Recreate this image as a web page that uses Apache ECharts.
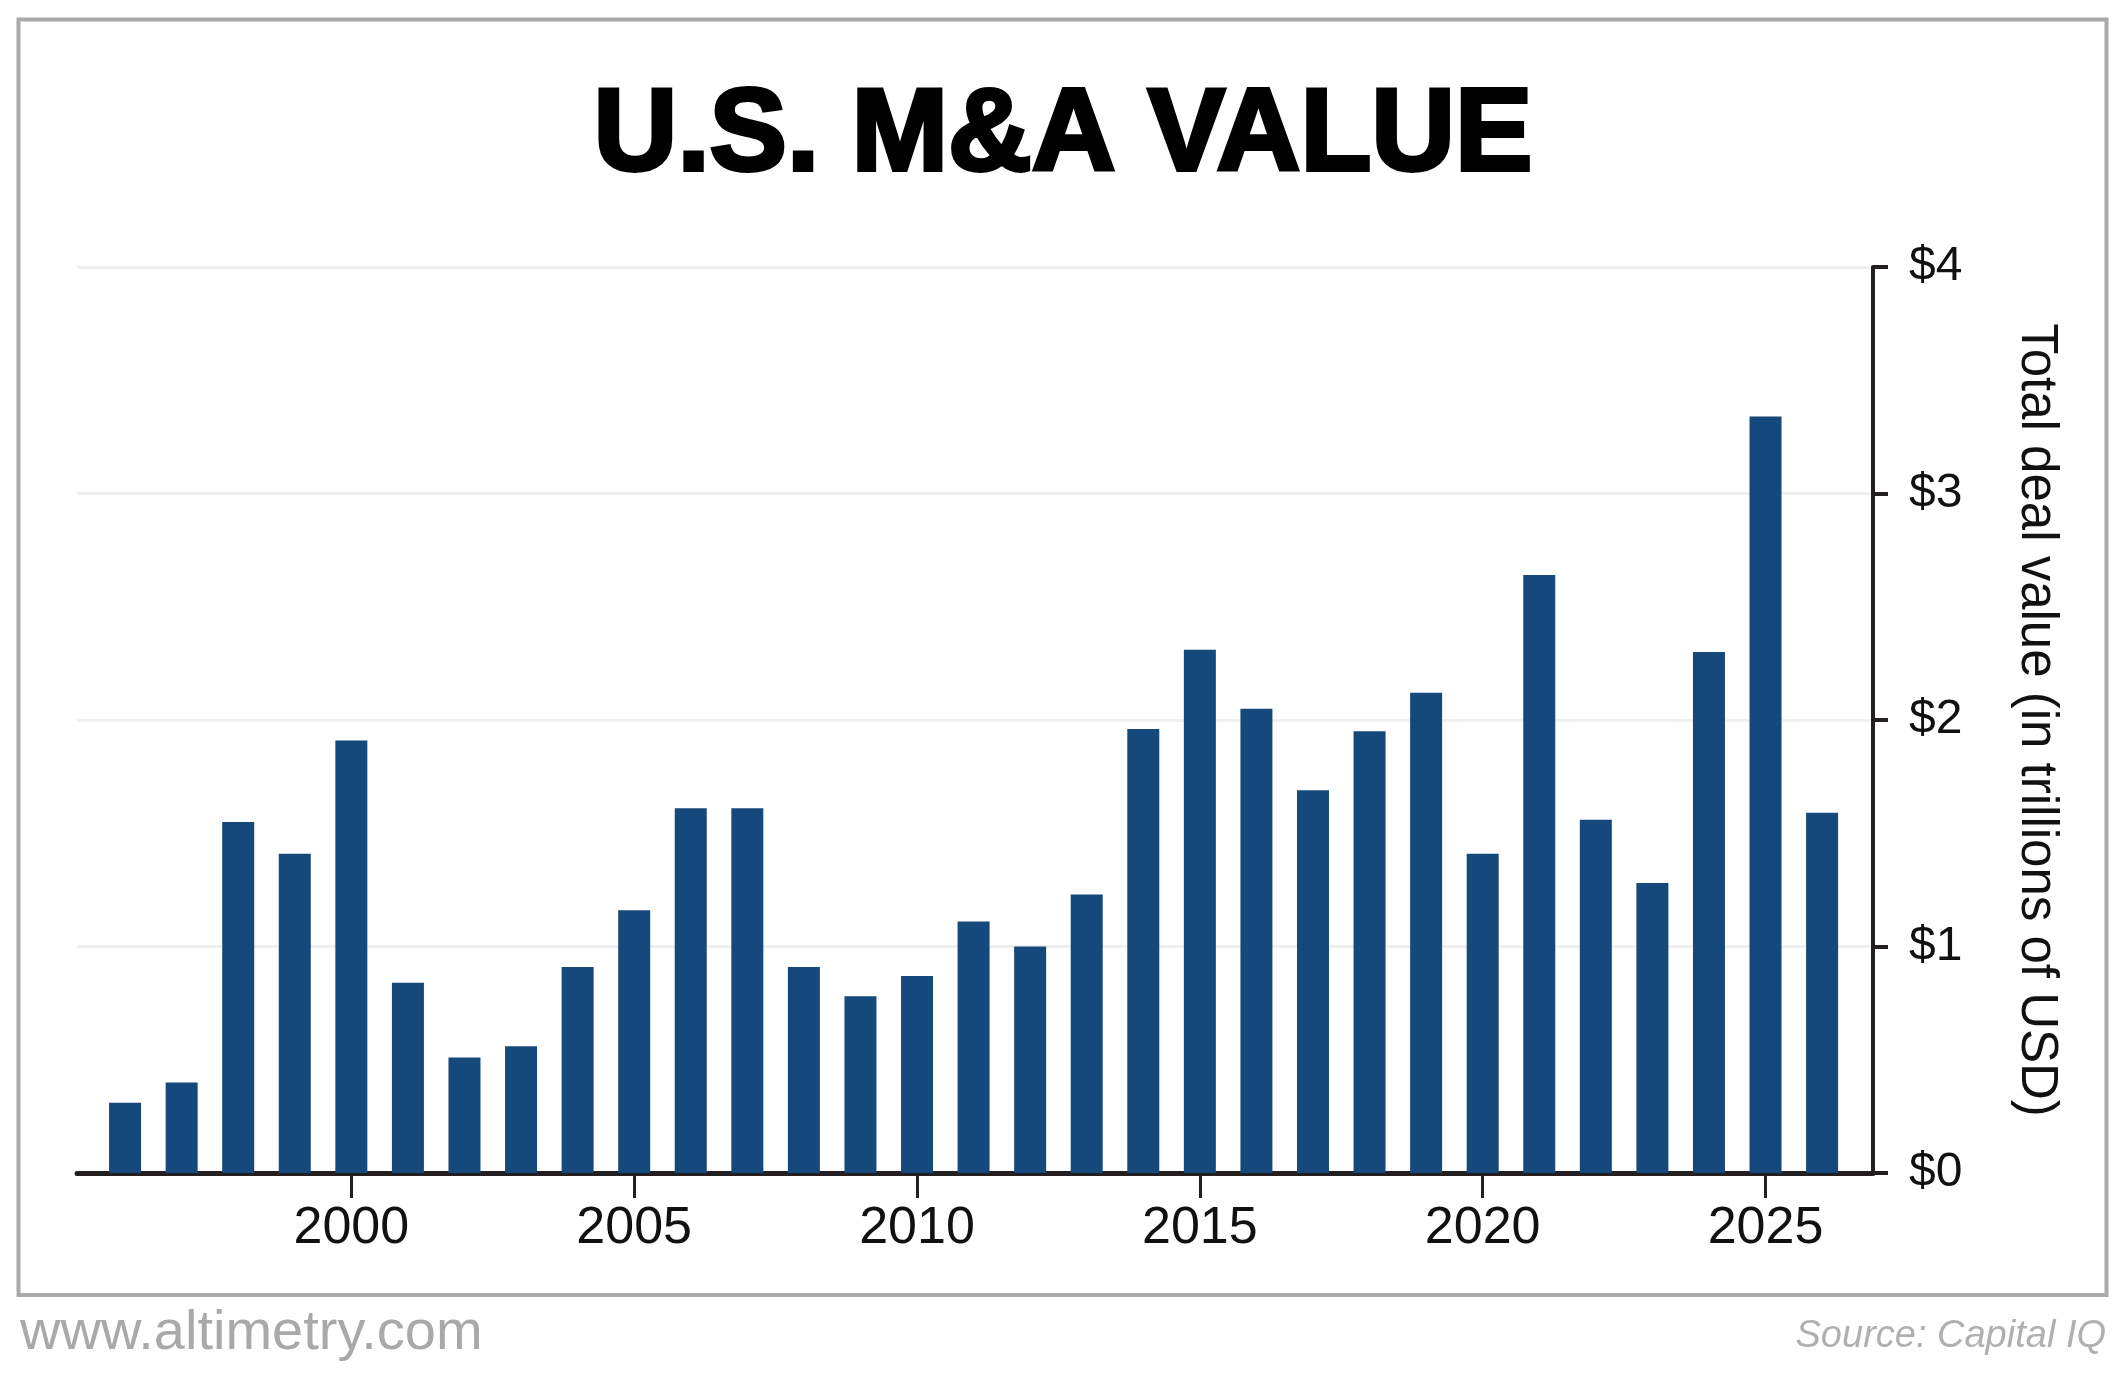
<!DOCTYPE html>
<html>
<head>
<meta charset="utf-8">
<title>U.S. M&amp;A Value</title>
<script src="https://cdn.jsdelivr.net/npm/echarts@6/dist/echarts.min.js"></script>
<style>
  html, body { margin: 0; padding: 0; background: #fff; }
  #chart { width: 2126px; height: 1394px; }
</style>
</head>
<body>
<div id="chart"></div>
<script>
// yearly totals, trillions of USD
const years = [1996, 1997, 1998, 1999, 2000, 2001, 2002, 2003, 2004, 2005,
  2006, 2007, 2008, 2009, 2010, 2011, 2012, 2013, 2014, 2015,
  2016, 2017, 2018, 2019, 2020, 2021, 2022, 2023, 2024, 2025, 2026]
const dealValue = [0.31, 0.40, 1.55, 1.41, 1.91, 0.84, 0.51, 0.56, 0.91, 1.16,
  1.61, 1.61, 0.91, 0.78, 0.87, 1.11, 1.00, 1.23, 1.96, 2.31,
  2.05, 1.69, 1.95, 2.12, 1.41, 2.64, 1.56, 1.28, 2.30, 3.34, 1.59]
const yearTicks = [2000, 2005, 2010, 2015, 2020, 2025]

const ink = '#231f20'
const font = 'Liberation Sans, Arial, sans-serif'

const chart = echarts.init(document.getElementById('chart'))

chart.setOption({
  backgroundColor: '#fff',
  animation: false,
  grid: { left: 77, right: 253, top: 267, bottom: 221, containLabel: false },
  xAxis: {
    type: 'value',
    min: 1995.15,
    max: 2026.9,
    axisLine: { show: true, onZero: false, lineStyle: { color: ink, width: 5 } },
    axisTick: { show: true, customValues: yearTicks, length: 25, lineStyle: { color: ink, width: 3 } },
    axisLabel: {
      customValues: yearTicks,
      formatter: v => String(v),
      margin: 30,
      fontSize: 52,
      fontFamily: font,
      color: '#111'
    },
    splitLine: { show: false }
  },
  yAxis: {
    type: 'value',
    position: 'right',
    min: 0,
    max: 4,
    interval: 1,
    axisLine: { show: true, onZero: false, lineStyle: { color: ink, width: 4 } },
    axisTick: { show: true, inside: false, length: 15, lineStyle: { color: ink, width: 4 } },
    axisLabel: {
      formatter: v => '$' + v,
      margin: 36,
      fontSize: 48,
      fontFamily: font,
      color: '#111'
    },
    splitLine: { show: true, lineStyle: { color: '#f0f0f0', width: 3 } },
    name: 'Total deal value (in trillions of USD)',
    nameLocation: 'middle',
    nameRotate: -90,
    nameGap: 138,
    nameTextStyle: { fontSize: 51, fontFamily: font, color: '#111', padding: [0, 0, 0, 0] }
  },
  series: [{
    type: 'bar',
    barWidth: 32,
    itemStyle: { color: '#15487b' },
    data: years.map((y, i) => [y, dealValue[i]])
  }],
  graphic: [
    {
      type: 'rect',
      shape: { x: 18.5, y: 19.5, width: 2088, height: 1275.5 },
      style: { fill: null, stroke: '#aaaaaa', lineWidth: 4 },
      z: -1
    },
    {
      type: 'text',
      left: 'center',
      top: 78,
      style: {
        text: 'U.S. M&A VALUE',
        font: 'bold 116px ' + font,
        fill: '#000',
        stroke: '#000',
        lineWidth: 4
      }
    },
    {
      type: 'text',
      left: 20,
      top: 1306,
      style: {
        text: 'www.altimetry.com',
        font: '56px ' + font,
        fill: '#a9a9a9'
      }
    },
    {
      type: 'text',
      right: 20,
      top: 1317,
      style: {
        text: 'Source: Capital IQ',
        font: 'italic 38px ' + font,
        fill: '#b0b0b0'
      }
    }
  ]
})
</script>
</body>
</html>
